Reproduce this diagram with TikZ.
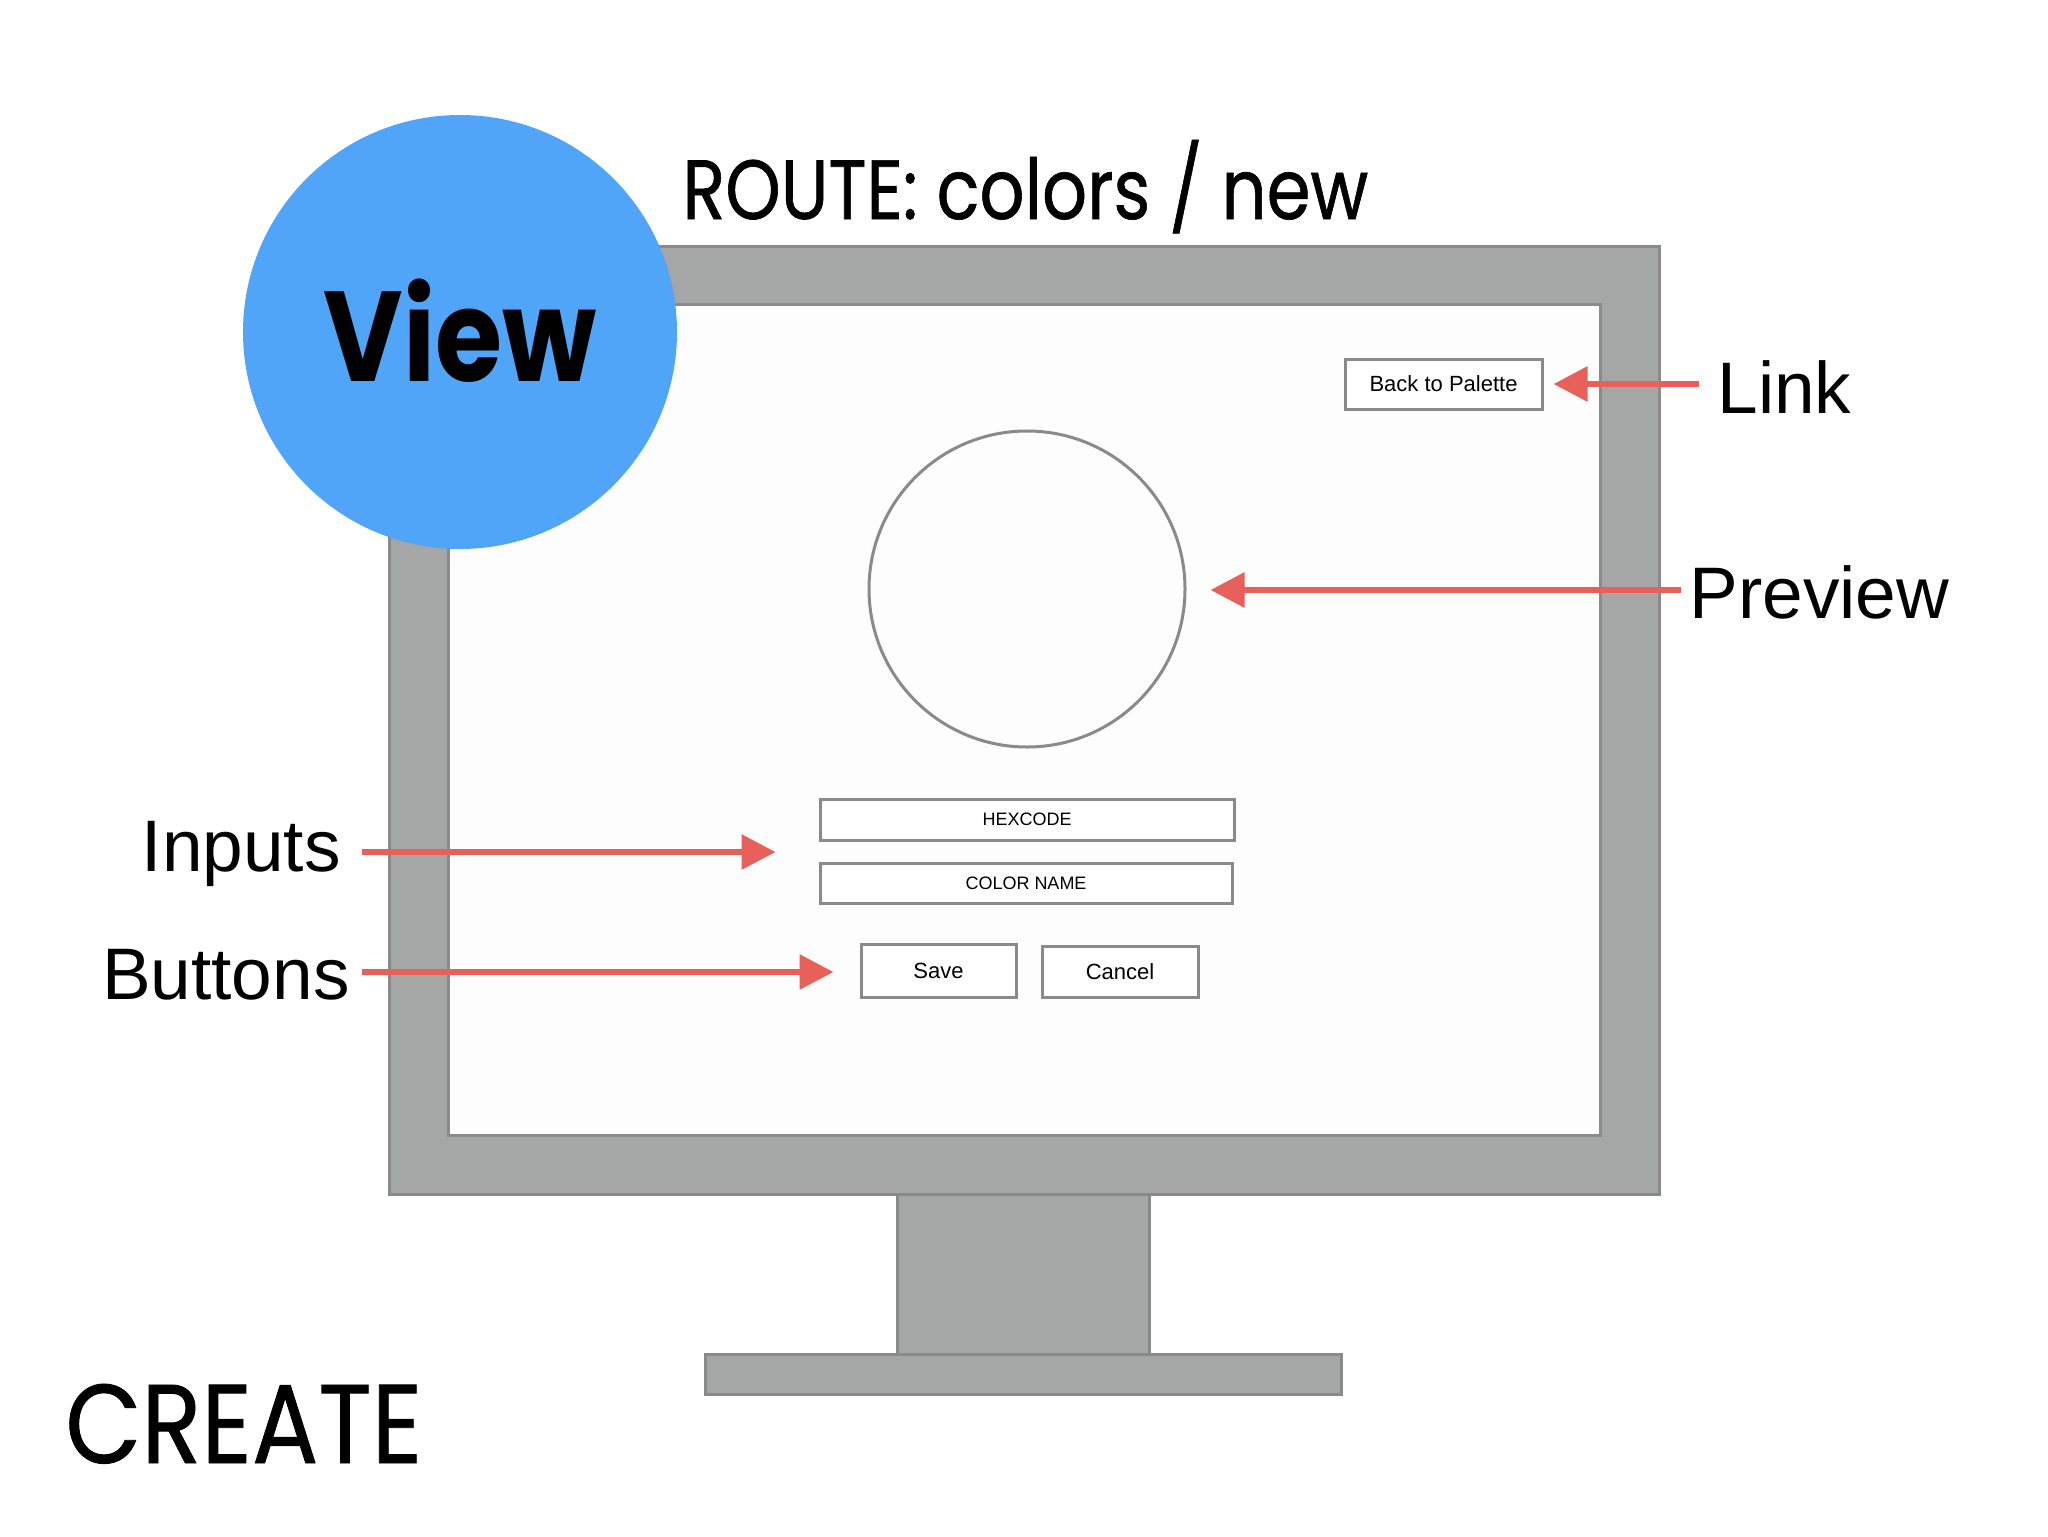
\documentclass[tikz,border=0pt]{standalone}
\usepackage{fontspec}
\setmainfont{Liberation Sans}
\newfontfamily\futura{Poppins}
\newfontfamily\futuramed[FakeBold=0.8]{Poppins}
\usetikzlibrary{arrows.meta,calc}
\definecolor{framegray}{HTML}{A5A7A6}
\definecolor{edgegray}{HTML}{8A8A8A}
\definecolor{viewblue}{HTML}{50A5F8}
\definecolor{arrowred}{HTML}{E8605A}
\definecolor{screenwhite}{HTML}{FDFDFD}
\tikzset{
  framepart/.style={fill=framegray,draw=edgegray,line width=1.5pt},
  uibox/.style={draw=edgegray,line width=1.5pt,fill=white,inner sep=0pt},
  callout/.style={draw=arrowred,line width=3pt,-{Triangle[length=17pt,width=17pt]}},
  lbl/.style={inner sep=0pt,font=\fontsize{36.5}{44}\selectfont},
}
\begin{document}
\begin{tikzpicture}[x=0.5pt,y=-0.5pt]
\useasboundingbox (0,0) rectangle (2048,1536);
\fill[white] (0,0) rectangle (2048,1536);
% monitor
\draw[framepart] (705,1354) rectangle (1341,1394);
\draw[framepart] (897,1194) rectangle (1149,1354);
\draw[framepart] (389,246) rectangle (1659,1194);
\draw[draw=edgegray,line width=1.5pt,fill=screenwhite] (448,304) rectangle (1600,1135);
% title
\node[anchor=base west,inner sep=0pt,font=\futuramed\fontsize{42}{50}\selectfont] (route) at (682,219) {\scalebox{0.84}[1]{ROUTE: colors / new}};
% view badge
\node[circle,fill=viewblue,minimum size=217pt,inner sep=0pt] (badge) at (460,332) {};
\node[anchor=base,inner sep=0pt,font=\futura\bfseries\fontsize{64}{72}\selectfont] (viewtxt) at (460,381) {\scalebox{0.85}[1]{View}};
% UI
\node[uibox,minimum width=98.5pt,minimum height=25pt,font=\fontsize{11}{13}\selectfont] (back) at (1443.5,384) {Back to Palette};
\node[circle,draw=edgegray,line width=1.5pt,minimum size=158pt,inner sep=0pt] (preview) at (1027,589) {};
\node[uibox,minimum width=207pt,minimum height=20.5pt,font=\fontsize{9}{11}\selectfont] (hex) at (1027,819.5) {HEXCODE};
\node[uibox,minimum width=206pt,minimum height=20pt,font=\fontsize{9}{11}\selectfont] (cname) at (1026,883) {COLOR NAME};
\node[uibox,minimum width=77.5pt,minimum height=26.5pt,font=\fontsize{11}{13}\selectfont] (save) at (938.5,970.5) {Save};
\node[uibox,minimum width=78pt,minimum height=25.5pt,font=\fontsize{11}{13}\selectfont] (cancel) at (1120,971.5) {Cancel};
% labels
\node[lbl,anchor=base west] (link) at (1717,413) {Link};
\node[lbl,anchor=base west] (prev) at (1689,618) {Preview};
\node[lbl,anchor=base east] (inputs) at (341,871) {Inputs};
\node[lbl,anchor=base east] (buttons) at (350,999) {Buttons};
\node[anchor=base west,inner sep=0pt,font=\futuramed\fontsize{56}{64}\selectfont] (create) at (65,1463) {\scalebox{0.88}[1]{CREATE}};
% arrows
\coordinate (linkstart) at (1699,384);
\coordinate (prevstart) at (1681,590);
\coordinate (inputsstart) at (362,852);
\coordinate (buttonsstart) at (362,972);
\draw[callout] (linkstart) -- ($(back.east)+(10,0)$);
\draw[callout] (prevstart) -- ($(preview.east)+(24,1)$);
\draw[callout] (inputsstart) -- ($(inputsstart -| hex.west)+(-43,0)$);
\draw[callout] (buttonsstart) -- ($(buttonsstart -| save.west)+(-26,0)$);
\end{tikzpicture}
\end{document}
